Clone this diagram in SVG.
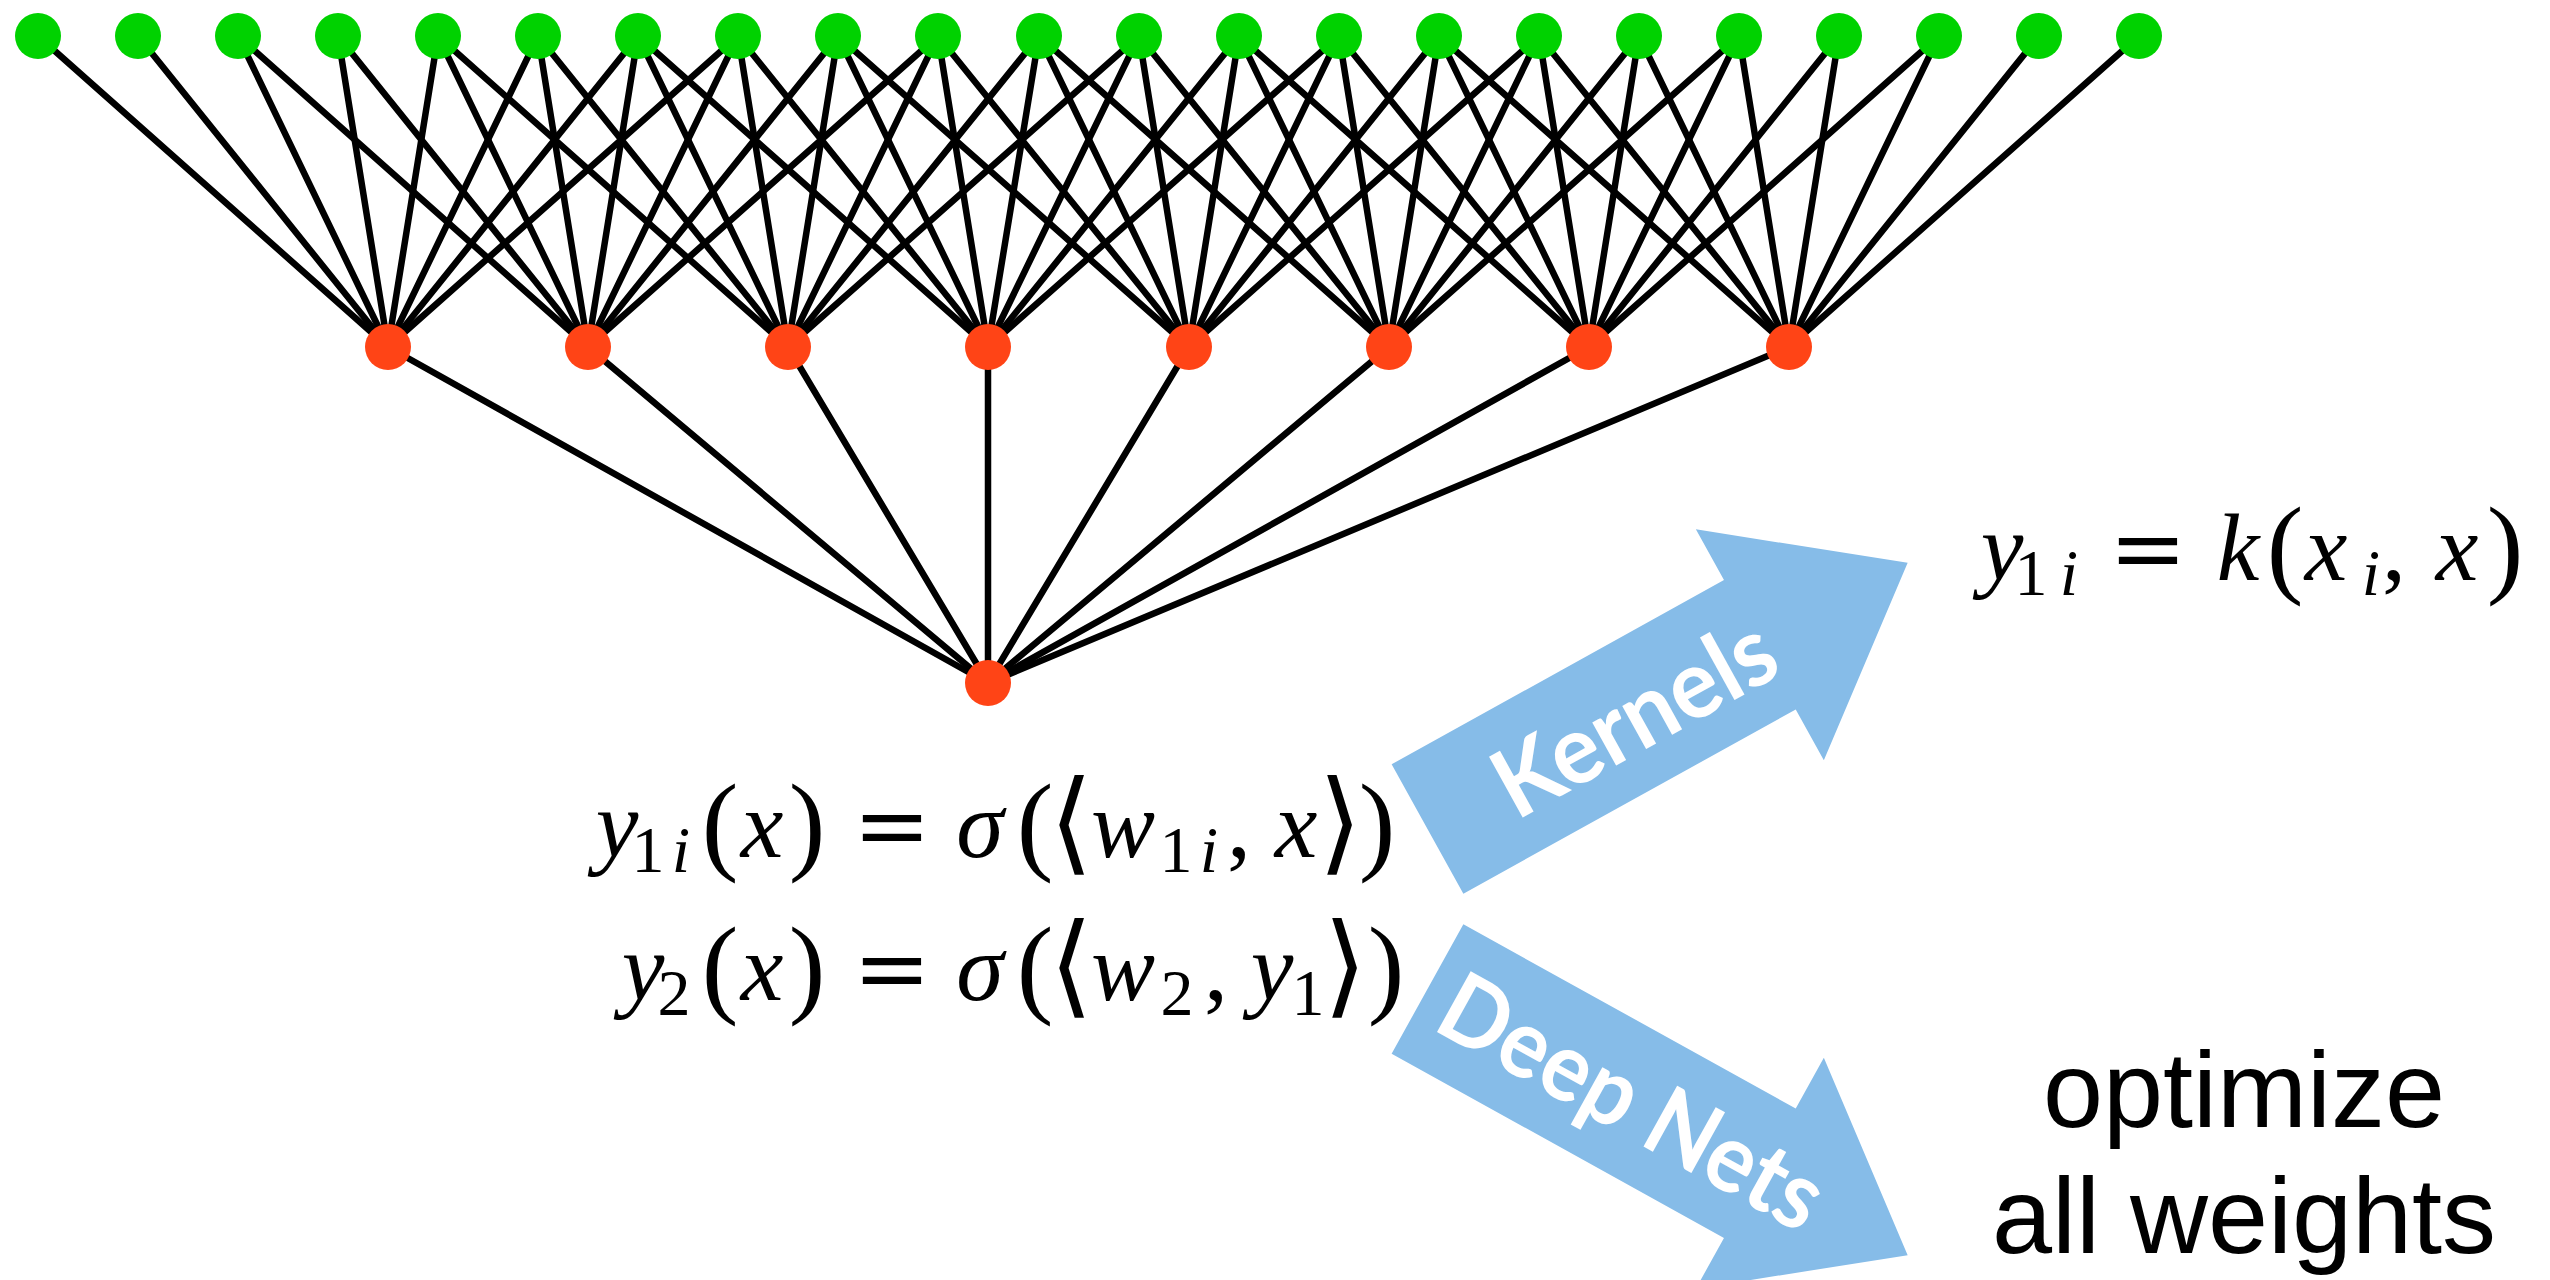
<svg xmlns="http://www.w3.org/2000/svg" width="2550" height="1280" viewBox="0 0 2550 1280">
<style>
.in{fill:#00D200}
.hid{fill:#FF4416}
.con line{stroke:#000;stroke-width:6.5;stroke-linecap:round}
.arrow{fill:#86BCE8}
.lbl{font-family:"Lato","Open Sans","DejaVu Sans",sans-serif;font-weight:700;font-size:96px;fill:#fff}
.m{font-family:"Liberation Serif","DejaVu Serif",serif;font-size:96px;fill:#000;text-anchor:middle}
.it{font-style:italic}
.s{font-size:66px}
.p{font-family:"Liberation Serif","DejaVu Serif",serif;font-size:110px}
.b{font-family:"DejaVu Serif","DejaVu Sans",serif;font-size:112px}
.eq{font-family:"DejaVu Serif","Liberation Serif",serif;font-size:93px}
.txt{font-family:"Liberation Sans","Arial",sans-serif;font-size:108px;fill:#000}
</style>
<rect width="2550" height="1280" fill="#fff"/>
<g id="connectors" class="con">
<line x1="388" y1="347" x2="38" y2="36"/><line x1="388" y1="347" x2="138" y2="36"/><line x1="388" y1="347" x2="238" y2="36"/><line x1="388" y1="347" x2="338" y2="36"/><line x1="388" y1="347" x2="438" y2="36"/><line x1="388" y1="347" x2="538" y2="36"/><line x1="388" y1="347" x2="638" y2="36"/><line x1="388" y1="347" x2="738" y2="36"/>
<line x1="588" y1="347" x2="238" y2="36"/><line x1="588" y1="347" x2="338" y2="36"/><line x1="588" y1="347" x2="438" y2="36"/><line x1="588" y1="347" x2="538" y2="36"/><line x1="588" y1="347" x2="638" y2="36"/><line x1="588" y1="347" x2="738" y2="36"/><line x1="588" y1="347" x2="838" y2="36"/><line x1="588" y1="347" x2="938" y2="36"/>
<line x1="788" y1="347" x2="438" y2="36"/><line x1="788" y1="347" x2="538" y2="36"/><line x1="788" y1="347" x2="638" y2="36"/><line x1="788" y1="347" x2="738" y2="36"/><line x1="788" y1="347" x2="838" y2="36"/><line x1="788" y1="347" x2="938" y2="36"/><line x1="788" y1="347" x2="1039" y2="36"/><line x1="788" y1="347" x2="1139" y2="36"/>
<line x1="988" y1="347" x2="638" y2="36"/><line x1="988" y1="347" x2="738" y2="36"/><line x1="988" y1="347" x2="838" y2="36"/><line x1="988" y1="347" x2="938" y2="36"/><line x1="988" y1="347" x2="1039" y2="36"/><line x1="988" y1="347" x2="1139" y2="36"/><line x1="988" y1="347" x2="1239" y2="36"/><line x1="988" y1="347" x2="1339" y2="36"/>
<line x1="1189" y1="347" x2="838" y2="36"/><line x1="1189" y1="347" x2="938" y2="36"/><line x1="1189" y1="347" x2="1039" y2="36"/><line x1="1189" y1="347" x2="1139" y2="36"/><line x1="1189" y1="347" x2="1239" y2="36"/><line x1="1189" y1="347" x2="1339" y2="36"/><line x1="1189" y1="347" x2="1439" y2="36"/><line x1="1189" y1="347" x2="1539" y2="36"/>
<line x1="1389" y1="347" x2="1039" y2="36"/><line x1="1389" y1="347" x2="1139" y2="36"/><line x1="1389" y1="347" x2="1239" y2="36"/><line x1="1389" y1="347" x2="1339" y2="36"/><line x1="1389" y1="347" x2="1439" y2="36"/><line x1="1389" y1="347" x2="1539" y2="36"/><line x1="1389" y1="347" x2="1639" y2="36"/><line x1="1389" y1="347" x2="1739" y2="36"/>
<line x1="1589" y1="347" x2="1239" y2="36"/><line x1="1589" y1="347" x2="1339" y2="36"/><line x1="1589" y1="347" x2="1439" y2="36"/><line x1="1589" y1="347" x2="1539" y2="36"/><line x1="1589" y1="347" x2="1639" y2="36"/><line x1="1589" y1="347" x2="1739" y2="36"/><line x1="1589" y1="347" x2="1839" y2="36"/><line x1="1589" y1="347" x2="1939" y2="36"/>
<line x1="1789" y1="347" x2="1439" y2="36"/><line x1="1789" y1="347" x2="1539" y2="36"/><line x1="1789" y1="347" x2="1639" y2="36"/><line x1="1789" y1="347" x2="1739" y2="36"/><line x1="1789" y1="347" x2="1839" y2="36"/><line x1="1789" y1="347" x2="1939" y2="36"/><line x1="1789" y1="347" x2="2039" y2="36"/><line x1="1789" y1="347" x2="2139" y2="36"/>
<line x1="988" y1="683" x2="388" y2="347"/><line x1="988" y1="683" x2="588" y2="347"/><line x1="988" y1="683" x2="788" y2="347"/><line x1="988" y1="683" x2="988" y2="347"/><line x1="988" y1="683" x2="1189" y2="347"/><line x1="988" y1="683" x2="1389" y2="347"/><line x1="988" y1="683" x2="1589" y2="347"/><line x1="988" y1="683" x2="1789" y2="347"/>
</g>
<g id="input-0"><circle class="in" cx="38" cy="36" r="23"/></g>
<g id="input-1"><circle class="in" cx="138" cy="36" r="23"/></g>
<g id="input-2"><circle class="in" cx="238" cy="36" r="23"/></g>
<g id="input-3"><circle class="in" cx="338" cy="36" r="23"/></g>
<g id="input-4"><circle class="in" cx="438" cy="36" r="23"/></g>
<g id="input-5"><circle class="in" cx="538" cy="36" r="23"/></g>
<g id="input-6"><circle class="in" cx="638" cy="36" r="23"/></g>
<g id="input-7"><circle class="in" cx="738" cy="36" r="23"/></g>
<g id="input-8"><circle class="in" cx="838" cy="36" r="23"/></g>
<g id="input-9"><circle class="in" cx="938" cy="36" r="23"/></g>
<g id="input-10"><circle class="in" cx="1039" cy="36" r="23"/></g>
<g id="input-11"><circle class="in" cx="1139" cy="36" r="23"/></g>
<g id="input-12"><circle class="in" cx="1239" cy="36" r="23"/></g>
<g id="input-13"><circle class="in" cx="1339" cy="36" r="23"/></g>
<g id="input-14"><circle class="in" cx="1439" cy="36" r="23"/></g>
<g id="input-15"><circle class="in" cx="1539" cy="36" r="23"/></g>
<g id="input-16"><circle class="in" cx="1639" cy="36" r="23"/></g>
<g id="input-17"><circle class="in" cx="1739" cy="36" r="23"/></g>
<g id="input-18"><circle class="in" cx="1839" cy="36" r="23"/></g>
<g id="input-19"><circle class="in" cx="1939" cy="36" r="23"/></g>
<g id="input-20"><circle class="in" cx="2039" cy="36" r="23"/></g>
<g id="input-21"><circle class="in" cx="2139" cy="36" r="23"/></g>
<g id="hidden-0"><circle class="hid" cx="388" cy="347" r="23"/></g>
<g id="hidden-1"><circle class="hid" cx="588" cy="347" r="23"/></g>
<g id="hidden-2"><circle class="hid" cx="788" cy="347" r="23"/></g>
<g id="hidden-3"><circle class="hid" cx="988" cy="347" r="23"/></g>
<g id="hidden-4"><circle class="hid" cx="1189" cy="347" r="23"/></g>
<g id="hidden-5"><circle class="hid" cx="1389" cy="347" r="23"/></g>
<g id="hidden-6"><circle class="hid" cx="1589" cy="347" r="23"/></g>
<g id="hidden-7"><circle class="hid" cx="1789" cy="347" r="23"/></g>
<g id="output"><circle class="hid" cx="988" cy="683" r="23"/></g>
<g id="arrow-kernels" transform="translate(1427.5,829) rotate(-29)">
<polygon class="arrow" points="0,-74 380,-74 380,-132 549,0 380,132 380,74 0,74"/>
<text class="lbl" x="235" y="36" text-anchor="middle" textLength="307" lengthAdjust="spacingAndGlyphs">Kernels</text>
</g>
<g id="arrow-deepnets" transform="translate(1427.5,989) rotate(29)">
<polygon class="arrow" points="0,-74 380,-74 380,-132 549,0 380,132 380,74 0,74"/>
<text class="lbl" x="234" y="33" text-anchor="middle" textLength="424" lengthAdjust="spacingAndGlyphs">Deep Nets</text>
</g>
<g id="formula-hidden">
<text class="m" y="857"><tspan class="it" x="617">y</tspan><tspan class="s" x="648" dy="15">1</tspan><tspan class="s it" x="681">i</tspan><tspan class="p" x="720" dy="-12">(</tspan><tspan class="it" x="762" dy="-3">x</tspan><tspan class="p" x="807" dy="3">)</tspan><tspan class="eq" x="892" dy="-3">=</tspan><tspan class="it" x="980">σ</tspan><tspan class="p" x="1035" dy="3">(</tspan><tspan class="b" x="1071">⟨</tspan><tspan class="it" x="1123" dy="-3">w</tspan><tspan class="s" x="1176" dy="15">1</tspan><tspan class="s it" x="1209">i</tspan><tspan x="1239" dy="-15">,</tspan><tspan class="it" x="1296">x</tspan><tspan class="b" x="1340" dy="3">⟩</tspan><tspan class="p" x="1377">)</tspan></text>
</g>
<g id="formula-output">
<text class="m" y="1000"><tspan class="it" x="643">y</tspan><tspan class="s" x="674" dy="15">2</tspan><tspan class="p" x="720" dy="-12">(</tspan><tspan class="it" x="762" dy="-3">x</tspan><tspan class="p" x="807" dy="3">)</tspan><tspan class="eq" x="892" dy="-3">=</tspan><tspan class="it" x="980">σ</tspan><tspan class="p" x="1035" dy="3">(</tspan><tspan class="b" x="1071">⟨</tspan><tspan class="it" x="1123" dy="-3">w</tspan><tspan class="s" x="1177" dy="15">2</tspan><tspan x="1216" dy="-15">,</tspan><tspan class="it" x="1272">y</tspan><tspan class="s" x="1308" dy="15">1</tspan><tspan class="b" x="1345" dy="-12">⟩</tspan><tspan class="p" x="1386">)</tspan></text>
</g>
<g id="formula-kernel">
<text class="m" y="580"><tspan class="it" x="2002">y</tspan><tspan class="s" x="2031" dy="15">1</tspan><tspan class="s it" x="2069">i</tspan><tspan class="eq" x="2148" dy="-15">=</tspan><tspan class="it" x="2238">k</tspan><tspan class="p" x="2285" dy="3">(</tspan><tspan class="it" x="2326" dy="-3">x</tspan><tspan class="s it" x="2371" dy="15">i</tspan><tspan x="2394" dy="-15">,</tspan><tspan class="it" x="2457">x</tspan><tspan class="p" x="2505" dy="3">)</tspan></text>
</g>
<g id="label-optimize">
<text class="txt" x="2244" y="1127" text-anchor="middle">optimize</text>
<text class="txt" x="2244" y="1253" text-anchor="middle">all weights</text>
</g>
</svg>
